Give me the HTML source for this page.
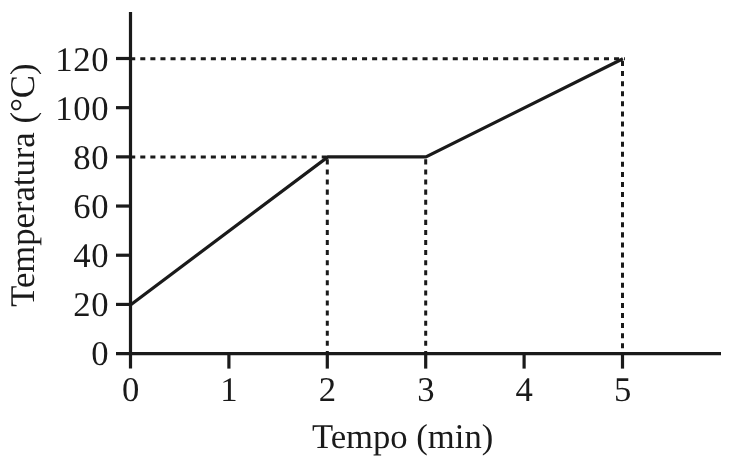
<!DOCTYPE html>
<html><head><meta charset="utf-8"><style>
html,body{margin:0;padding:0;background:#fff;}
svg{display:block;will-change:transform;}
text{text-rendering:geometricPrecision;font-family:"Liberation Serif",serif;font-size:34.67px;fill:#1a1a1a;}
</style></head><body>
<svg width="736" height="460" viewBox="0 0 736 460">
<line x1="130.5" y1="11.9" x2="130.5" y2="368.6" stroke="#1a1a1a" stroke-width="3.2"/>
<line x1="116" y1="353.6" x2="721" y2="353.6" stroke="#1a1a1a" stroke-width="3.2"/>
<line x1="116" y1="304.42" x2="130.5" y2="304.42" stroke="#1a1a1a" stroke-width="3.2"/>
<line x1="116" y1="255.23" x2="130.5" y2="255.23" stroke="#1a1a1a" stroke-width="3.2"/>
<line x1="116" y1="206.05" x2="130.5" y2="206.05" stroke="#1a1a1a" stroke-width="3.2"/>
<line x1="116" y1="156.86" x2="130.5" y2="156.86" stroke="#1a1a1a" stroke-width="3.2"/>
<line x1="116" y1="107.68" x2="130.5" y2="107.68" stroke="#1a1a1a" stroke-width="3.2"/>
<line x1="116" y1="58.50" x2="130.5" y2="58.50" stroke="#1a1a1a" stroke-width="3.2"/>
<line x1="228.90" y1="353.6" x2="228.90" y2="368.6" stroke="#1a1a1a" stroke-width="3.2"/>
<line x1="327.30" y1="353.6" x2="327.30" y2="368.6" stroke="#1a1a1a" stroke-width="3.2"/>
<line x1="425.70" y1="353.6" x2="425.70" y2="368.6" stroke="#1a1a1a" stroke-width="3.2"/>
<line x1="524.10" y1="353.6" x2="524.10" y2="368.6" stroke="#1a1a1a" stroke-width="3.2"/>
<line x1="622.50" y1="353.6" x2="622.50" y2="368.6" stroke="#1a1a1a" stroke-width="3.2"/>
<line x1="130.2" y1="58.70" x2="625.00" y2="58.70" stroke="#1a1a1a" stroke-width="3.0" stroke-dasharray="5.040 5.040"/>
<line x1="130.2" y1="157.06" x2="327.30" y2="157.06" stroke="#1a1a1a" stroke-width="3.0" stroke-dasharray="5.040 5.040"/>
<line x1="622.50" y1="61.00" x2="622.50" y2="352.10" stroke="#1a1a1a" stroke-width="3.0" stroke-dasharray="5.040 5.040"/>
<line x1="327.30" y1="159.36" x2="327.30" y2="352.10" stroke="#1a1a1a" stroke-width="3.0" stroke-dasharray="5.040 5.040"/>
<line x1="425.70" y1="159.36" x2="425.70" y2="352.10" stroke="#1a1a1a" stroke-width="3.0" stroke-dasharray="5.040 5.040"/>
<polyline points="131.10,304.42 327.90,156.86 425.90,156.86 622.90,58.70" fill="none" stroke="#1a1a1a" stroke-width="3.2" stroke-linejoin="miter"/>
<text x="91.17" y="365.40">0</text>
<text x="73.17 91.17" y="316.27">20</text>
<text x="73.17 91.17" y="267.13">40</text>
<text x="73.17 91.17" y="218.00">60</text>
<text x="73.17 91.17" y="168.86">80</text>
<text x="55.17 73.17 91.17" y="119.73">100</text>
<text x="55.17 73.17 91.17" y="70.60">120</text>
<text x="130.60" y="400.8" text-anchor="middle">0</text>
<text x="229.00" y="400.8" text-anchor="middle">1</text>
<text x="327.40" y="400.8" text-anchor="middle">2</text>
<text x="425.80" y="400.8" text-anchor="middle">3</text>
<text x="524.20" y="400.8" text-anchor="middle">4</text>
<text x="622.60" y="400.8" text-anchor="middle">5</text>
<text x="402.6" y="448" text-anchor="middle">Tempo (min)</text>
<text transform="translate(33.5,185.2) rotate(-90)" text-anchor="middle">Temperatura (°C)</text>
</svg>
</body></html>
